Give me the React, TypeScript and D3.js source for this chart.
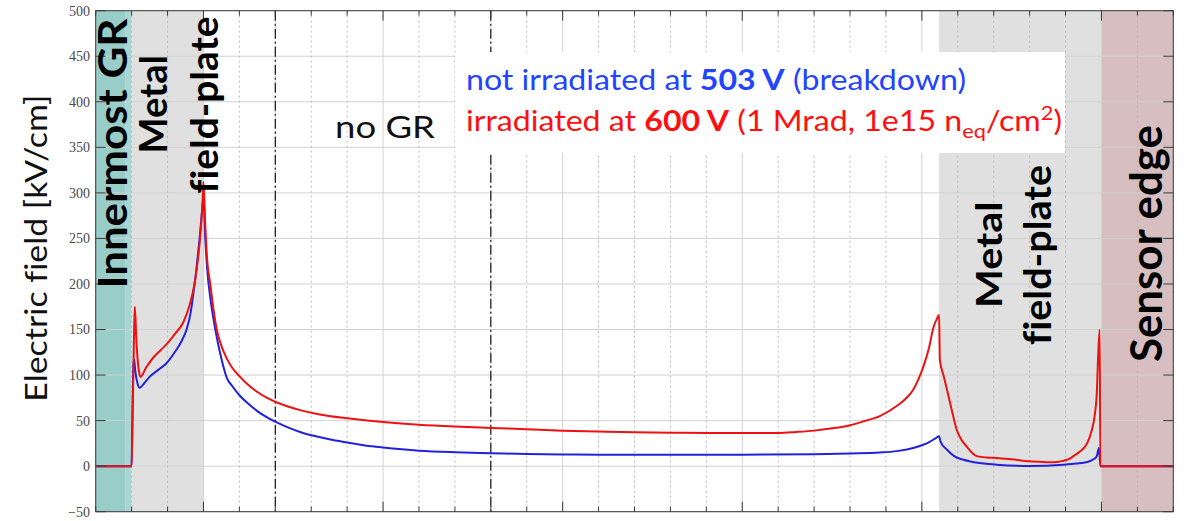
import React from "react";
import * as d3 from "d3";

// Electric field along the guard-ring / edge termination cross-section
const W = 1185;
const H = 521;
const plot = { left: 95.7, right: 1173.3, top: 10.7, bottom: 511.7 };

const yTicks = [-50, 0, 50, 100, 150, 200, 250, 300, 350, 400, 450, 500];
const xTicks = d3.range(0, 31);
const xMajorTicks = [3, 8, 13, 18, 23, 28];
const dashDotLines = [5, 11];

// Structure regions along the section (x in grid units)
const regionStart = [0, 0.82, 1, 23.48, 28];
const regionEnd = [0.82, 1, 3, 28, 30];
const regionKind = ["gr", "grEdge", "metal", "metal", "edge"];

// Not irradiated, 503 V
const blueX = [0, 0.99, 1.0, 1.02, 1.05, 1.07, 1.1, 1.17, 1.23, 1.35, 1.5, 1.75, 1.97, 2.2, 2.4, 2.53, 2.65, 2.72, 2.8, 2.88, 2.95, 3.0, 3.05, 3.1, 3.2, 3.33, 3.5, 3.65, 3.8, 4.02, 4.25, 4.48, 4.75, 5.04, 5.35, 5.69, 6.1, 6.5, 7, 7.5, 8, 9, 10, 11, 12, 13, 14, 16, 18, 20, 21, 21.83, 22.3, 22.76, 23.04, 23.23, 23.38, 23.48, 23.52, 23.7, 23.9, 24.16, 24.5, 25.08, 26, 26.94, 27.3, 27.6, 27.8, 27.87, 27.93, 27.97, 30];
const blueY = [0, 0, 0, 50, 110, 117, 105, 90, 86, 91, 98, 106, 113, 125, 138, 150, 170, 190, 215, 245, 275, 295, 250, 218, 182, 150, 118, 97, 88, 77, 68.5, 61, 54, 48, 42.5, 37.5, 33, 29.5, 26, 22.8, 20.5, 17, 15.3, 14.3, 13.3, 12.8, 12.5, 12.4, 12.6, 13.2, 14, 15, 16.5, 20, 23.5, 27, 30.5, 32.7, 27, 18, 11, 7, 4, 1.6, 0.3, 1.6, 2.8, 4.5, 8, 11, 20, 0, 0];

// Irradiated, 600 V
const redX = [0, 0.99, 1.0, 1.03, 1.07, 1.09, 1.13, 1.2, 1.25, 1.4, 1.6, 1.8, 2.0, 2.2, 2.44, 2.6, 2.75, 2.85, 2.93, 2.98, 3.0, 3.05, 3.1, 3.19, 3.28, 3.37, 3.5, 3.65, 3.8, 4.02, 4.25, 4.48, 4.75, 5.04, 5.35, 5.69, 6.2, 7, 8, 9, 10, 11, 12, 13, 14, 15, 16, 17, 18, 19, 19.5, 20, 20.5, 21, 21.4, 21.83, 22.3, 22.55, 22.76, 22.9, 23.04, 23.2, 23.32, 23.42, 23.48, 23.5, 23.6, 23.7, 23.83, 23.97, 24.1, 24.25, 24.4, 24.53, 24.8, 25.08, 25.5, 26, 26.4, 26.66, 26.9, 27.1, 27.22, 27.4, 27.6, 27.72, 27.82, 27.87, 27.9, 27.95, 27.97, 30];
const redY = [0, 0, 0, 60, 150, 175, 140, 105, 98, 108, 119, 127, 135, 145, 158, 175, 200, 228, 262, 295, 312, 265, 228, 200, 172, 150, 132, 118, 108, 98, 89, 82, 75.5, 70, 65.5, 61.5, 57, 52.5, 48.5, 45.5, 43.5, 42, 40.5, 39, 38, 37.2, 36.7, 36.4, 36.3, 36.4, 37.5, 39, 41.5, 45, 49.5, 55, 66, 74, 84, 95, 109, 130, 152, 162, 166, 117, 100, 84, 62, 40, 29, 21.5, 14.5, 11, 9.5, 9, 7.5, 5.3, 4.5, 4.2, 5.5, 8, 11, 16, 25, 38, 58, 80, 113, 150, 0, 0];

const regionFill: Record<string, string> = {
  gr: "#98cdca",
  grEdge: "#a7d5d2",
  metal: "#e0e0e0",
  edge: "#d7bfc1",
};

const x = d3.scaleLinear().domain([0, 30]).range([plot.left, plot.right]);
const y = d3.scaleLinear().domain([-50, 500]).range([plot.bottom, plot.top]);

const toPoints = (xs: number[], ys: number[]) => xs.map((v, i) => [v, ys[i]] as [number, number]);
const line = d3
  .line<[number, number]>()
  .x((d) => x(d[0]))
  .y((d) => y(d[1]))
  .curve(d3.curveMonotoneX);

const SANS = "Lato, 'Open Sans', sans-serif";
const noLig = { fontVariantLigatures: "none" as const, fontFeatureSettings: "'liga' 0" };

type VLabelProps = { bx: number; by: number; size: number; len: number; text: string };
const VLabel = ({ bx, by, size, len, text }: VLabelProps) => (
  <text
    transform={`translate(${bx},${by}) rotate(-90)`}
    fontFamily={SANS}
    fontWeight={700}
    fontSize={size}
    fill="#000"
    textLength={len}
    lengthAdjust="spacingAndGlyphs"
    style={noLig}
  >
    {text}
  </text>
);

export default function App() {
  const blueLine = line(toPoints(blueX, blueY)) || "";
  const redLine = line(toPoints(redX, redY)) || "";
  const gridColor = "#d2d2d2";
  const axisColor = "#3a3a3a";

  return (
    <svg
      width={W}
      height={H}
      viewBox={`0 0 ${W} ${H}`}
      style={{ position: "absolute", left: 0, top: 0, background: "#fff" }}
    >
      {/* structure regions */}
      {regionStart.map((s, i) => (
        <rect
          key={`r${i}`}
          x={x(s)}
          y={plot.top}
          width={x(regionEnd[i]) - x(s)}
          height={plot.bottom - plot.top}
          fill={regionFill[regionKind[i]]}
        />
      ))}

      {/* horizontal grid */}
      {yTicks.map((t) => (
        <line key={`hg${t}`} x1={plot.left} x2={plot.right} y1={y(t)} y2={y(t)} stroke={gridColor} strokeWidth={1} />
      ))}

      {/* vertical grid */}
      {xTicks.map((t) =>
        xMajorTicks.includes(t) ? (
          <line key={`vg${t}`} x1={x(t)} x2={x(t)} y1={plot.top} y2={plot.bottom} stroke={gridColor} strokeWidth={1} />
        ) : (
          <line
            key={`vg${t}`}
            x1={x(t)}
            x2={x(t)}
            y1={plot.top}
            y2={plot.bottom}
            stroke="#b4b4b4"
            strokeWidth={0.9}
            strokeDasharray="2,3"
          />
        )
      )}

      {/* dash-dot boundaries */}
      {dashDotLines.map((t) => (
        <line
          key={`dd${t}`}
          x1={x(t)}
          x2={x(t)}
          y1={plot.top}
          y2={plot.bottom}
          stroke="#111"
          strokeWidth={1.2}
          strokeDasharray="10,3,2,3"
        />
      ))}

      {/* curves */}
      <path d={blueLine} fill="none" stroke="#2222dd" strokeWidth={2} strokeLinejoin="round" />
      <path d={redLine} fill="none" stroke="#ee1111" strokeWidth={2} strokeLinejoin="round" />

      {/* frame and ticks */}
      <rect
        x={plot.left}
        y={plot.top}
        width={plot.right - plot.left}
        height={plot.bottom - plot.top}
        fill="none"
        stroke={axisColor}
        strokeWidth={1}
      />
      {xTicks.map((t) => {
        const len = xMajorTicks.includes(t) ? 10 : 5;
        return (
          <g key={`xt${t}`} stroke={axisColor} strokeWidth={1}>
            <line x1={x(t)} x2={x(t)} y1={plot.top} y2={plot.top + len} />
            <line x1={x(t)} x2={x(t)} y1={plot.bottom} y2={plot.bottom - len} />
          </g>
        );
      })}
      {yTicks.map((t) => (
        <g key={`yt${t}`} stroke={axisColor} strokeWidth={1}>
          <line x1={plot.left} x2={plot.left + 10} y1={y(t)} y2={y(t)} />
          <line x1={plot.right} x2={plot.right - 10} y1={y(t)} y2={y(t)} />
        </g>
      ))}
      {yTicks.map((t) => (
        <text
          key={`yl${t}`}
          x={90}
          y={y(t)}
          dy="0.35em"
          textAnchor="end"
          fontFamily="'Liberation Serif', 'DejaVu Serif', serif"
          fontSize={14}
          fill="#4a4a4a"
        >
          {t < 0 ? `\u2212${Math.abs(t)}` : t}
        </text>
      ))}

      {/* axis title */}
      <text
        transform="translate(46.7,401.7) rotate(-90)"
        fontFamily={SANS}
        fontSize={30}
        fill="#111"
        textLength={307}
        lengthAdjust="spacingAndGlyphs"
        style={noLig}
      >
        Electric field [kV/cm]
      </text>

      {/* region labels */}
      <VLabel bx={126.5} by={288.5} size={40} len={270} text="Innermost GR" />
      <VLabel bx={167} by={153.5} size={38} len={98.5} text="Metal" />
      <VLabel bx={218} by={193.5} size={38} len={177} text="field-plate" />
      <VLabel bx={1001.5} by={308} size={37} len={106.5} text="Metal" />
      <VLabel bx={1050.5} by={345} size={38} len={180} text="field-plate" />
      <VLabel bx={1161.5} by={362} size={44} len={237} text="Sensor edge" />

      <text
        x={335}
        y={138}
        fontFamily={SANS}
        fontSize={31}
        fill="#111"
        textLength={100}
        lengthAdjust="spacingAndGlyphs"
        style={noLig}
      >
        no GR
      </text>

      {/* legend */}
      <rect x={455} y={52} width={610} height={101} fill="#fff" />
      <text
        x={466}
        y={90}
        fontFamily={SANS}
        fontSize={28}
        fill="#2244ff"
        textLength={500}
        lengthAdjust="spacingAndGlyphs"
        style={noLig}
      >
        not irradiated at <tspan fontWeight={700}>503 V</tspan> (breakdown)
      </text>
      <text
        x={466}
        y={130.5}
        fontFamily={SANS}
        fontSize={28}
        fill="#ff1010"
        textLength={596}
        lengthAdjust="spacingAndGlyphs"
        style={noLig}
      >
        irradiated at <tspan fontWeight={700}>600 V</tspan> (1 Mrad, 1e15 n
        <tspan fontSize={19} dy={7}>eq</tspan>
        <tspan dy={-7}>/cm</tspan>
        <tspan fontSize={19} dy={-11}>2</tspan>
        <tspan dy={11}>)</tspan>
      </text>
    </svg>
  );
}
